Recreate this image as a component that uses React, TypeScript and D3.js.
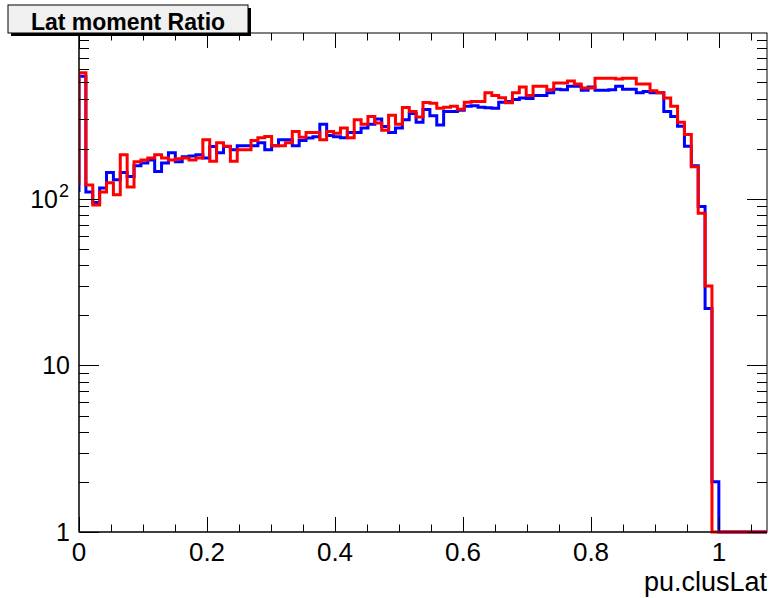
import React, { useEffect } from "react";
import * as d3 from "d3";

// Histogram binning of pu.clusLat (100 equal bins over the axis range)
const X_MIN = 0;
const X_MAX = 1.075;
const N_BINS = 100;

// Bin contents, second sample (blue)
const blueCounts: number[] = [
  545, 110, 95, 116, 144, 130, 144, 136, 158, 164,
  171, 146, 164, 189, 167, 179, 181, 184, 176, 206,
  189, 206, 197, 208, 208, 208, 217, 197, 208, 226,
  226, 208, 224, 232, 236, 280, 240, 236, 233, 250,
  250, 266, 280, 302, 272, 250, 266, 298, 325, 288,
  344, 315, 278, 335, 335, 340, 360, 362, 355, 352,
  350, 380, 384, 395, 403, 400, 418, 418, 433, 455,
  452, 475, 475, 449, 470, 449, 449, 452, 475, 455,
  455, 433, 441, 433, 433, 335, 312, 273, 207, 158,
  90, 22, 2, 0, 0, 0, 0, 0, 0, 0,
];

// Bin contents, first sample (red)
const redCounts: number[] = [
  571, 121, 92, 110, 125, 106, 184, 118, 167, 171,
  176, 184, 176, 171, 174, 176, 171, 176, 226, 168,
  217, 207, 168, 197, 197, 224, 233, 237, 208, 208,
  217, 254, 234, 250, 250, 226, 254, 248, 266, 233,
  298, 280, 312, 285, 258, 318, 280, 353, 335, 310,
  379, 375, 350, 355, 360, 345, 380, 384, 384, 433,
  418, 405, 378, 433, 470, 418, 475, 475, 452, 496,
  496, 510, 490, 463, 463, 530, 530, 530, 525, 530,
  530, 490, 490, 446, 433, 403, 360, 288, 243, 156,
  82, 30, 0, 0, 0, 0, 0, 0, 0, 0,
];

const xMajorTicks = [0, 0.2, 0.4, 0.6, 0.8, 1];
const xTickLabels = ["0", "0.2", "0.4", "0.6", "0.8", "1"];
const Y_MIN = 1;
const Y_MAX = 990;

const W = 772;
const H = 598;
const frame = { left: 79, right: 767, top: 33, bottom: 532 };
const FONT = "'Liberation Sans', Arial, Helvetica, sans-serif";

export default function App() {
  useEffect(() => {
    document.body.style.margin = "0";
  }, []);

  const x = d3.scaleLinear().domain([X_MIN, X_MAX]).range([frame.left, frame.right]);
  const y = d3.scaleLog().domain([Y_MIN, Y_MAX]).range([frame.bottom, frame.top]);
  const binW = (X_MAX - X_MIN) / N_BINS;

  const yOf = (v: number) => (v > 0 ? y(Math.max(v, Y_MIN)) : frame.bottom);

  // step outline: the first edge rises from the level of the neighbouring bin
  const histPath = (counts: number[]) => {
    const pts: [number, number][] = [[x(X_MIN), yOf(counts[1])]];
    counts.forEach((c, i) => {
      const x0 = X_MIN + i * binW;
      const x1 = x0 + binW;
      pts.push([x(x0), yOf(c)]);
      pts.push([x(x1), yOf(c)]);
    });
    return d3.line()(pts) || "";
  };

  // x ticks every 0.05, major every 0.2
  const xTicks: { v: number; major: boolean }[] = [];
  for (let k = 0; k * 0.05 <= X_MAX + 1e-9; k++) {
    const v = +(k * 0.05).toFixed(4);
    xTicks.push({ v, major: k % 4 === 0 });
  }
  const xMajorLen = 15;
  const xMinorLen = 7.5;

  // log y ticks
  const yTicks: { v: number; major: boolean }[] = [];
  for (let d = 0; d < 3; d++) {
    for (let m = 1; m <= 9; m++) {
      const v = m * Math.pow(10, d);
      if (v <= Y_MAX) yTicks.push({ v, major: m === 1 });
    }
  }
  const yMajorLen = 20;
  const yMinorLen = 10;

  return (
    <svg
      width={W}
      height={H}
      style={{ position: "absolute", left: 0, top: 0, background: "#fff" }}
      xmlns="http://www.w3.org/2000/svg"
    >
      <defs>
        <clipPath id="plotClip">
          <rect x={frame.left} y={0} width={W - frame.left} height={H} />
        </clipPath>
      </defs>
      <rect x={0} y={0} width={W} height={H} fill="#fff" />

      {/* frame */}
      <rect
        x={frame.left}
        y={frame.top}
        width={frame.right - frame.left}
        height={frame.bottom - frame.top}
        fill="none"
        stroke="#000"
        strokeWidth={1}
      />

      {/* histograms */}
      <g clipPath="url(#plotClip)" fill="none" strokeWidth={3} strokeLinejoin="miter">
        <path d={histPath(blueCounts)} stroke="#0000ff" />
        <path d={histPath(redCounts)} stroke="#ff0000" />
      </g>

      {/* axis ticks on all four sides */}
      <g stroke="#000" strokeWidth={1}>
        {xTicks.map((t, i) => {
          const px = Math.round(x(t.v)) + 0.5;
          const len = t.major ? xMajorLen : xMinorLen;
          return (
            <g key={"xt" + i}>
              <line x1={px} x2={px} y1={frame.bottom} y2={frame.bottom - len} />
              <line x1={px} x2={px} y1={frame.top} y2={frame.top + len} />
            </g>
          );
        })}
        {yTicks.map((t, i) => {
          const py = Math.round(y(t.v)) + 0.5;
          const len = t.major ? yMajorLen : yMinorLen;
          return (
            <g key={"yt" + i}>
              <line x1={frame.left} x2={frame.left + len} y1={py} y2={py} />
              <line x1={frame.right} x2={frame.right - len} y1={py} y2={py} />
            </g>
          );
        })}
        <line x1={frame.left} x2={frame.right} y1={frame.bottom} y2={frame.bottom} />
        <line x1={frame.left} x2={frame.left} y1={frame.top} y2={frame.bottom} />
      </g>

      {/* x tick labels */}
      <g fontFamily={FONT} fontSize={26} fill="#000" textAnchor="middle">
        {xMajorTicks.map((v, i) => (
          <text key={"xl" + i} x={x(v)} y={561}>
            {xTickLabels[i]}
          </text>
        ))}
      </g>

      {/* y tick labels */}
      <g fontFamily={FONT} fontSize={25} fill="#000" textAnchor="end">
        <text x={70} y={y(1) + 9}>1</text>
        <text x={70} y={y(10) + 9}>10</text>
        <text x={58} y={y(100) + 9}>10</text>
        <text x={59} y={y(100) - 2} fontSize={18} textAnchor="start">2</text>
      </g>

      {/* axis title */}
      <text
        x={frame.right}
        y={591}
        fontFamily={FONT}
        fontSize={27}
        textAnchor="end"
        fill="#000"
      >
        pu.clusLat
      </text>

      {/* title box with shadow */}
      <rect x={11} y={8} width={240} height={28} fill="#000" />
      <rect x={8} y={5} width={240} height={28} fill="#f0f0f0" stroke="#000" strokeWidth={1} />
      <text
        x={128}
        y={29.5}
        fontFamily={FONT}
        fontSize={23}
        fontWeight="bold"
        textAnchor="middle"
        fill="#000"
      >
        Lat moment Ratio
      </text>
    </svg>
  );
}
